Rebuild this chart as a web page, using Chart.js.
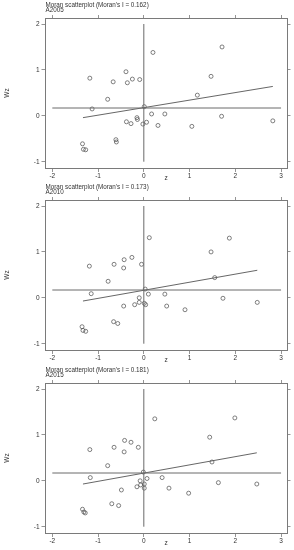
<!DOCTYPE html>
<html>
<head>
<meta charset="utf-8">
<script src="https://cdn.jsdelivr.net/npm/chart.js@4/dist/chart.umd.min.js"></script>
<style>
html,body{margin:0;padding:0;background:#fff;width:294px;height:550px;overflow:hidden;}
.panel{position:absolute;left:0;width:294px;height:183px;}
</style>
</head>
<body>
<div class="panel" style="top:0px"><canvas id="c1" width="294" height="183"></canvas></div>
<div class="panel" style="top:182px"><canvas id="c2" width="294" height="183"></canvas></div>
<div class="panel" style="top:365px"><canvas id="c3" width="294" height="183"></canvas></div>
<script>
// ---- data ----
const years = ["A2005", "A2010", "A2015"];
const moranI = ["0.162", "0.173", "0.181"];
const xTicks = [-2, -1, 0, 1, 2, 3];
const yTicks = [-1, 0, 1, 2];

const z2005  = [-1.18,-1.13,-0.79,-0.67,-0.39,-0.36,-0.25,-0.09,0.20,0.01,0.17,0.46,-0.38,-0.28,-0.15,-0.14,-0.02,0.06,0.31,-0.61,-0.60,-1.34,-1.32,-1.27,1.17,1.47,1.71,1.70,1.05,2.82];
const wz2005 = [0.82,0.15,0.36,0.74,0.96,0.72,0.80,0.79,1.38,0.20,0.04,0.04,-0.13,-0.17,-0.04,-0.08,-0.18,-0.14,-0.21,-0.52,-0.57,-0.61,-0.73,-0.74,0.45,0.86,1.50,-0.01,-0.23,-0.11];

const z2010  = [-1.19,-1.15,-0.78,-0.65,-0.43,-0.44,-0.26,-0.05,0.12,0.03,0.10,0.46,-0.10,-0.10,-0.20,-0.44,0.01,0.04,0.50,0.90,-0.66,-0.57,-1.35,-1.33,-1.27,1.47,1.55,1.87,1.73,2.48];
const wz2010 = [0.69,0.09,0.36,0.73,0.83,0.65,0.88,0.73,1.31,0.19,0.08,0.08,0.00,-0.10,-0.15,-0.18,-0.12,-0.15,-0.18,-0.26,-0.52,-0.56,-0.63,-0.71,-0.73,1.00,0.44,1.30,-0.01,-0.10];

const z2015  = [-1.18,-1.17,-0.79,-0.65,-0.42,-0.43,-0.28,-0.12,0.24,-0.01,0.07,0.40,-0.08,-0.07,-0.15,0.01,0.01,-0.49,0.55,0.98,-0.70,-0.55,-1.34,-1.31,-1.28,1.44,1.49,1.99,1.63,2.47];
const wz2015 = [0.68,0.07,0.33,0.73,0.88,0.63,0.84,0.73,1.35,0.19,0.05,0.07,0.00,-0.09,-0.13,-0.07,-0.16,-0.20,-0.16,-0.27,-0.50,-0.54,-0.62,-0.68,-0.70,0.95,0.41,1.37,-0.04,-0.07];

// fitted line end points [z, Wz]
const fit2005 = [[-1.33, -0.04], [2.82, 0.64]];
const fit2010 = [[-1.33, -0.07], [2.48, 0.60]];
const fit2015 = [[-1.33, -0.07], [2.47, 0.61]];

// reference lines: horizontal Wz level across z range, vertical at z = 0
const hLineWz = [0.17, 0.17, 0.17];
const hLineZ = [-2, 3];
const vLineZ = 0;
const vLineWz = [-1, 2];

const zs = [z2005, z2010, z2015];
const wzs = [wz2005, wz2010, wz2015];
const fits = [fit2005, fit2010, fit2015];

// ---- drawing ----
const FONT = "'Liberation Sans', Arial, sans-serif";
const TXT = '#333';
const AX = '#7a7a7a';
const LN = '#6a6a6a';

function makeChart(id, k) {
  const pts = zs[k].map((v, i) => ({x: v, y: wzs[k][i]}));
  const textPlugin = {
    id: 'txt' + k,
    afterDraw(chart) {
      const ctx = chart.ctx;
      const a = chart.chartArea;
      ctx.save();
      ctx.fillStyle = TXT;
      ctx.font = '6.3px ' + FONT;
      ctx.textAlign = 'left';
      ctx.textBaseline = 'middle';
      ctx.fillText("Moran scatterplot (Moran's I = " + moranI[k] + ")", a.left + 0.5, 5);
      ctx.fillText(years[k], a.left + 0.5, 10.5);
      ctx.font = '6.5px ' + FONT;
      ctx.textAlign = 'center';
      ctx.fillText('z', (a.left + a.right) / 2 + 0, 178.5);
      ctx.translate(7, 93);
      ctx.rotate(-Math.PI / 2);
      ctx.fillText('Wz', 0, 0);
      ctx.restore();
    }
  };
  const setTicks = (vals) => (scale) => { scale.ticks = vals.map(v => ({value: v})); };
  const tickFont = {family: FONT, size: 6.5};
  return new Chart(document.getElementById(id), {
    type: 'scatter',
    data: {
      datasets: [
        {data: [{x: hLineZ[0], y: hLineWz[k]}, {x: hLineZ[1], y: hLineWz[k]}], showLine: true, pointRadius: 0, borderColor: LN, borderWidth: 1},
        {data: [{x: vLineZ, y: vLineWz[0]}, {x: vLineZ, y: vLineWz[1]}], showLine: true, pointRadius: 0, borderColor: LN, borderWidth: 1},
        {data: fits[k].map(p => ({x: p[0], y: p[1]})), showLine: true, pointRadius: 0, borderColor: '#555', borderWidth: 0.9},
        {data: pts, showLine: false, pointStyle: 'circle', pointRadius: 2, backgroundColor: 'rgba(0,0,0,0)', borderColor: '#4a4a4a', borderWidth: 0.7}
      ]
    },
    options: {
      responsive: false,
      animation: false,
      devicePixelRatio: 1,
      layout: {padding: 0},
      plugins: {legend: {display: false}, tooltip: {enabled: false}, title: {display: false}},
      scales: {
        x: {
          type: 'linear', position: 'bottom', min: -2.16, max: 3.13,
          afterBuildTicks: setTicks(xTicks),
          afterFit: (s) => { s.height = 14.5; },
          grid: {display: true, drawOnChartArea: false, drawTicks: true, tickLength: 3.5, color: AX, lineWidth: 0.8},
          border: {display: true, color: AX, width: 1},
          ticks: {font: tickFont, color: TXT, padding: 0, maxRotation: 0, autoSkip: false}
        },
        x2: {
          type: 'linear', position: 'top', min: -2.16, max: 3.13,
          afterBuildTicks: setTicks(xTicks),
          afterFit: (s) => { s.height = 18.5; },
          grid: {display: true, drawOnChartArea: false, drawTicks: true, tickLength: 3.5, color: AX, lineWidth: 0.8},
          border: {display: true, color: AX, width: 1},
          ticks: {display: false}
        },
        y: {
          type: 'linear', position: 'left', min: -1.148, max: 2.12,
          afterBuildTicks: setTicks(yTicks),
          afterFit: (s) => { s.width = 45; },
          grid: {display: true, drawOnChartArea: false, drawTicks: true, tickLength: 3.5, color: AX, lineWidth: 0.8},
          border: {display: true, color: AX, width: 1},
          ticks: {font: tickFont, color: TXT, padding: 2}
        },
        y2: {
          type: 'linear', position: 'right', min: -1.148, max: 2.12,
          afterBuildTicks: setTicks(yTicks),
          afterFit: (s) => { s.width = 7; },
          grid: {display: true, drawOnChartArea: false, drawTicks: true, tickLength: 3.5, color: AX, lineWidth: 0.8},
          border: {display: true, color: AX, width: 1},
          ticks: {display: false}
        }
      }
    },
    plugins: [textPlugin]
  });
}
makeChart('c1', 0);
makeChart('c2', 1);
makeChart('c3', 2);
</script>
</body>
</html>
